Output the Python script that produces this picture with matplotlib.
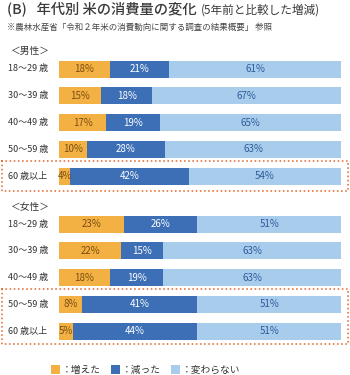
import matplotlib.pyplot as plt
import matplotlib.transforms as mtransforms
from matplotlib.patches import Rectangle
import numpy as np

plt.rcParams['font.family'] = ['Noto Sans CJK JP', 'DejaVu Sans']

ages = ['18～29 歳', '30～39 歳', '40～49 歳', '50～59 歳', '60 歳以上']
male_up = [18, 15, 17, 10, 4]
male_down = [21, 18, 19, 28, 42]
male_same = [61, 67, 65, 63, 54]
female_up = [23, 22, 18, 8, 5]
female_down = [26, 15, 19, 41, 44]
female_same = [51, 63, 63, 51, 51]
legend_labels = ['：増えた', '：減った', '：変わらない']

colors = ['#F3B043', '#3C6FB6', '#A8CCEC']
text_colors = ['#7A4E12', '#FFFFFF', '#2E5C9A']

W, H = 350, 375
fig = plt.figure(figsize=(W / 100, H / 100), dpi=100)
ax = fig.add_axes([59 / W, 0, 282 / W, 1])
ax.set_xlim(0, 100)
ax.set_ylim(H, 0)
ax.axis('off')

# row centres in pixel units
male_y = 69 + 26.75 * np.arange(5)
female_y = 224 + 26.8 * np.arange(5)
bar_h = 17

lab_tr = mtransforms.blended_transform_factory(fig.transFigure, ax.transData)


def draw_group(ys, up, down, same):
    vals = np.array([up, down, same], dtype=float)
    widths = vals / vals.sum(axis=0) * 100
    left = np.zeros(len(ys))
    for k in range(3):
        ax.barh(ys, widths[k], left=left, height=bar_h, color=colors[k],
                edgecolor='none', label=legend_labels[k])
        for y, l, w, v in zip(ys, left, widths[k], vals[k]):
            ax.text(l + w / 2, y, f'{int(v)}%', ha='center', va='center',
                    fontsize=7, color=text_colors[k])
        left += widths[k]
    for y, a in zip(ys, ages):
        ax.text(8 / W, y, a, transform=lab_tr, ha='left', va='center',
                fontsize=6.5, color='#333333')


draw_group(male_y, male_up, male_down, male_same)
draw_group(female_y, female_up, female_down, female_same)

# dotted highlight boxes
for top, bottom in [(161, 191), (289, 344)]:
    ax.add_patch(Rectangle((2 / W, top), 346 / W, bottom - top, transform=lab_tr,
                           fill=False, edgecolor='#E0733A', linewidth=1.3,
                           linestyle=(0, (0.1, 2.2)), capstyle='round',
                           clip_on=False))

# headings
title = fig.text(7 / W, 1 - 9 / H, '(B)   年代別 米の消費量の変化', fontsize=10.3,
                 fontweight='medium', color='#3A3A3A', va='center', ha='left')
fig.canvas.draw()
bb = title.get_window_extent()
fig.text(bb.x1 / W + 4 / W, 1 - 10 / H, '(5年前と比較した増減)', fontsize=8.4,
         color='#3A3A3A', va='center', ha='left')
fig.text(7 / W, 1 - 27 / H, '※農林水産省「令和２年米の消費動向に関する調査の結果概要」 参照',
         fontsize=6.1, color='#444444', va='center', ha='left')
fig.text(11 / W, 1 - 51 / H, '＜男性＞', fontsize=7, color='#333333',
         va='center', ha='left')
fig.text(11 / W, 1 - 207 / H, '＜女性＞', fontsize=7, color='#333333',
         va='center', ha='left')

handles, labels = ax.get_legend_handles_labels()
fig.legend(handles[:3], labels[:3], loc='center left',
           bbox_to_anchor=(51 / W, 1 - 370 / H), ncol=3, frameon=False,
           fontsize=7, handlelength=0.95, handleheight=0.95,
           handletextpad=0.2, columnspacing=1.0, borderpad=0, borderaxespad=0,
           labelcolor='#333333')

fig.savefig('out.png', dpi=100)
